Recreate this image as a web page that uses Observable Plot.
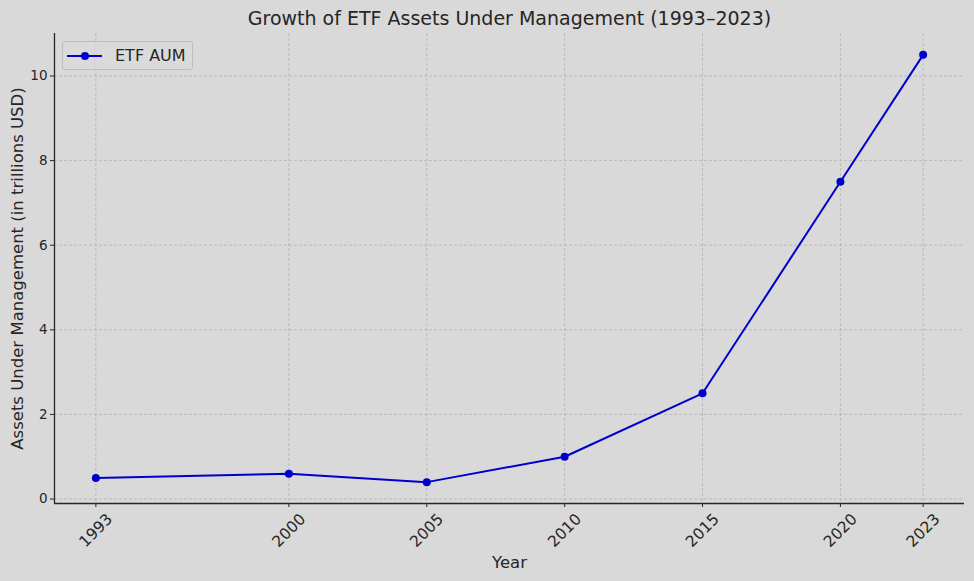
<!DOCTYPE html>
<html>
<head>
<meta charset="utf-8">
<script src="https://cdn.jsdelivr.net/npm/d3@7"></script>
<script src="https://cdn.jsdelivr.net/npm/@observablehq/plot@0.6"></script>
<style>
  html, body { margin: 0; padding: 0; background: #d9d9d9; }
  #wrap { position: relative; width: 974px; height: 581px; font-family: "DejaVu Sans", sans-serif; }
  #legend { position: absolute; left: 62px; top: 41px; width: 131px; height: 29px; border: 1px solid #bdbdbd; border-radius: 3px; background: rgba(217,217,217,0.8); box-sizing: border-box; display: flex; align-items: center; font-size: 16px; color: #262626; }
  #legend svg { margin-left: 4px; margin-right: 12px; }
</style>
</head>
<body>
<div id="wrap">
  <div id="chart"></div>
  <div id="legend"><svg width="36" height="12"><line x1="0" y1="6" x2="35" y2="6" stroke="#0000cd" stroke-width="2"/><circle cx="18" cy="6" r="4" fill="#0000cd"/></svg><span>ETF AUM</span></div>
</div>
<script>
const years = [1993, 2000, 2005, 2010, 2015, 2020, 2023];
const aum = [0.5, 0.6, 0.4, 1.0, 2.5, 7.5, 10.5];
const yTicks = [0, 2, 4, 6, 8, 10];
const title = "Growth of ETF Assets Under Management (1993–2023)";
const xLabel = "Year";
const yLabel = "Assets Under Management (in trillions USD)";

const data = years.map((y, i) => ({year: y, value: aum[i]}));
const xDomain = [1991.5, 2024.5];
const yDomain = [-0.105, 11.005];
const ink = "#262626";

const chart = Plot.plot({
  width: 974,
  height: 581,
  marginLeft: 54,
  marginRight: 10,
  marginTop: 33,
  marginBottom: 78,
  style: {background: "#d9d9d9", fontFamily: "DejaVu Sans, sans-serif", color: ink},
  x: {domain: xDomain, type: "linear"},
  y: {domain: yDomain},
  marks: [
    Plot.gridX(years, {stroke: "#b3b3b3", strokeOpacity: 1, strokeDasharray: "3,2", strokeWidth: 0.8}),
    Plot.gridY(yTicks, {stroke: "#b3b3b3", strokeOpacity: 1, strokeDasharray: "3,2", strokeWidth: 0.8}),
    Plot.axisY({ticks: yTicks, tickSize: 4, tickPadding: 3, fontSize: 13.5, label: null, stroke: ink, color: ink}),
    Plot.axisX({ticks: years, tickSize: 4, tickFormat: () => "", label: null, stroke: ink}),
    Plot.text(years, {x: d => d, text: d => String(d), frameAnchor: "bottom", lineAnchor: "middle", dy: 27, rotate: -45, textAnchor: "middle", fontSize: 15.5, fill: ink}),
    Plot.ruleX([xDomain[0]], {stroke: ink, strokeWidth: 1.3}),
    Plot.ruleY([yDomain[0]], {stroke: ink, strokeWidth: 1.3}),
    Plot.line(data, {x: "year", y: "value", stroke: "#0000cd", strokeWidth: 2}),
    Plot.dot(data, {x: "year", y: "value", r: 4, fill: "#0000cd"}),
    Plot.text([title], {frameAnchor: "top", lineAnchor: "middle", textAnchor: "middle", dy: -15, fontSize: 19, fill: ink}),
    Plot.text([xLabel], {frameAnchor: "bottom", lineAnchor: "middle", textAnchor: "middle", dy: 59, fontSize: 16.5, fill: ink}),
    Plot.text([yLabel], {frameAnchor: "left", lineAnchor: "middle", textAnchor: "middle", dx: -37, rotate: -90, fontSize: 16.5, fill: ink})
  ]
});
document.getElementById("chart").appendChild(chart);
</script>
</body>
</html>
